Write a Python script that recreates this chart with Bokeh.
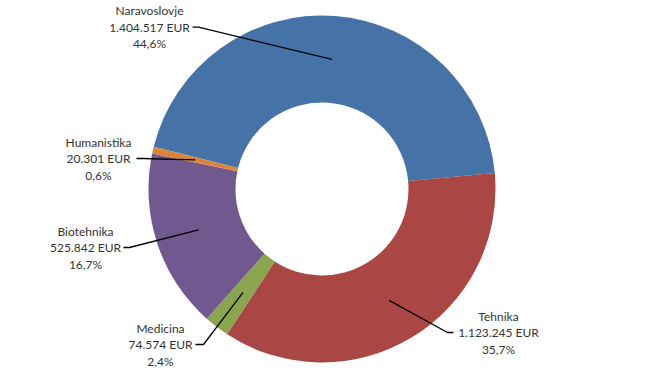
import math
from bokeh.plotting import figure
from bokeh.models import Range1d, ColumnDataSource
from bokeh.core.properties import value
from bokeh.embed import file_html
from bokeh.resources import INLINE

# ---- data ----
categories = ["Naravoslovje", "Tehnika", "Medicina", "Biotehnika", "Humanistika"]
amounts = [1404517, 1123245, 74574, 525842, 20301]
colors = ["#4572A7", "#AA4643", "#89A54E", "#71588F", "#DB843D"]

# ---- layout (pixel positions in the 647x374 page) ----
W, H = 647, 374
CX, CY = 321.5, 188.5           # page coords of the donut centre
R_OUT, R_IN = 173.5, 86.5
START_DEG = 284.1               # first slice start, clockwise from 12 o'clock
# label block centre (x, y of middle line) and leader start/elbow x
label_pos = {
    "Naravoslovje": (149, 26.7, 192, 198),
    "Tehnika": (498, 332, 453, 447),
    "Medicina": (160, 344, 195, 203),
    "Biotehnika": (85, 247, 123, 129),
    "Humanistika": (98, 158, 136, 142),
}
LINE_GAP = 16.5
FONT = "Lato"
FS = "12px"
TXT = "#333333"

def dx(X):
    return X

def dy(Y):
    return H - Y

p = figure(width=W, height=H, output_backend="svg", toolbar_location=None,
           x_range=Range1d(0, W), y_range=Range1d(0, H), min_border=0)
p.axis.visible = False
p.grid.visible = False
p.outline_line_color = None
p.background_fill_color = "white"

total = sum(amounts)
cx, cy = dx(CX), dy(CY)
starts, ends, mids = [], [], []
cum = START_DEG
for a in amounts:
    t0 = cum
    t1 = cum + a / total * 360.0
    starts.append(math.radians(90 - t0))
    ends.append(math.radians(90 - t1))
    mids.append((t0 + t1) / 2)
    cum = t1

src = ColumnDataSource(dict(x=[cx] * len(amounts), y=[cy] * len(amounts),
                            s=starts, e=ends, c=colors))
p.annular_wedge(x="x", y="y", inner_radius=R_IN, outer_radius=R_OUT,
                start_angle="s", end_angle="e", direction="clock",
                fill_color="c", line_color=None, source=src)

r_mid = (R_IN + R_OUT) / 2
lx, ly = [], []
t1x, t1y, t1s = [], [], []
t2s, t2x, t2y = [], [], []
t3s, t3x, t3y = [], [], []
for cat, amt, m in zip(categories, amounts, mids):
    X, Y, e0, e1 = label_pos[cat]
    tx = cx + r_mid * math.sin(math.radians(m))
    ty = cy + r_mid * math.cos(math.radians(m))
    lx.append([dx(e0), dx(e1), tx])
    ly.append([dy(Y), dy(Y), ty])
    pct = amt / total * 100
    t1s.append(cat)
    t2s.append(f"{amt:,}".replace(",", ".") + " EUR")
    t3s.append(f"{pct:.1f}".replace(".", ",") + "%")
    t1x.append(dx(X)); t1y.append(dy(Y - LINE_GAP))
    t2x.append(dx(X)); t2y.append(dy(Y))
    t3x.append(dx(X)); t3y.append(dy(Y + LINE_GAP))

p.multi_line(xs=lx, ys=ly, line_color="black", line_width=1.3)
for xs_, ys_, ts_ in ((t1x, t1y, t1s), (t2x, t2y, t2s), (t3x, t3y, t3s)):
    p.text(x=xs_, y=ys_, text=ts_, text_align="center", text_baseline="middle",
           text_font=value(FONT), text_font_size=FS, text_color=TXT)

open("out.html", "w").write(file_html(p, INLINE))
